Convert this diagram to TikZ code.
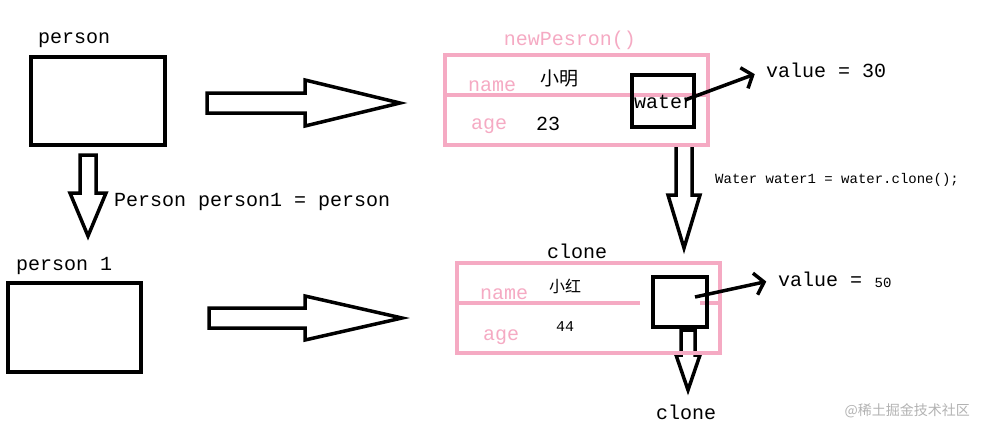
\documentclass[tikz,border=0pt]{standalone}
\usepackage{fontspec}
\usetikzlibrary{arrows.meta}
\setmonofont{Liberation Mono}
\newfontfamily\cjk{Noto Sans CJK SC}
\definecolor{pinkline}{RGB}{245,170,195}
\begin{document}
\begin{tikzpicture}[x=1pt,y=-1pt,
  lbl/.style={font=\ttfamily\fontsize{20}{20}\selectfont,inner sep=0pt},
  pinklbl/.style={lbl,text=pinkline},
  box/.style={draw=black,line width=3.5pt},
  pinkbox/.style={draw=pinkline,line width=3.5pt},
  blockarrow/.style={draw=black,line width=3.5pt,line join=miter},
  pointer/.style={line width=3.5pt,shorten >=12pt,-{Straight Barb[length=9pt,width=22pt]}}]
\useasboundingbox (0,0) rectangle (984,437);

% left side
\node[lbl,anchor=west] (person) at (38,40) {person};
\draw[box] (31,57) rectangle (165,145);
\node[lbl,anchor=west] (person1) at (16,266) {person 1};
\draw[box] (8,283) rectangle (141,372);
\node[lbl,anchor=west] (assign) at (114,202) {Person person1 = person};

% hollow arrows
\draw[blockarrow] (207,93) -- (305,93) -- (305,80) -- (400,103) -- (305,126) -- (305,113) -- (207,113) -- cycle;
\draw[blockarrow] (209,308) -- (305,308) -- (305,296) -- (402,318) -- (305,340) -- (305,328) -- (209,328) -- cycle;
\draw[blockarrow] (80,155) -- (96,155) -- (96,193) -- (106,193) -- (88,236) -- (70,193) -- (80,193) -- cycle;
\draw[blockarrow] (676,145) -- (692,145) -- (692,195) -- (700,195) -- (684,248) -- (668,195) -- (676,195) -- cycle;
\draw[blockarrow] (681,330) -- (695,330) -- (695,355) -- (700,355) -- (688,390) -- (676,355) -- (681,355) -- cycle;

% original object
\node[pinklbl] (newP) at (570,40) {newPesron()};
\draw[pinkbox] (445,55) rectangle (708,145);
\draw[pinkbox] (445,95) -- (708,95);
\node[pinklbl] (name1) at (492,86) {name};
\node[pinklbl] (age1) at (489,126) {age};
\node[font=\cjk\fontsize{19}{19}\selectfont,inner sep=0pt] (xm) at (559,78) {小明};
\node[lbl] (age23) at (548,124) {23};
\draw[box] (632,75) rectangle (694,127);
\node[lbl] (water1) at (664,102) {water};
\node[lbl,anchor=west] (val1) at (766,70) {value = 30};
\draw[pointer] (685,100) -- (val1.west);
\node[font=\ttfamily\fontsize{14}{14}\selectfont,inner sep=0pt,anchor=west] (code) at (715,180) {Water water1 = water.clone();};

% cloned object
\node[lbl] (clone1) at (577,251) {clone};
\draw[pinkbox] (457,263) rectangle (720,353);
\draw[pinkbox] (457,303) -- (640,303);
\draw[pinkbox] (700,303) -- (720,303);
\node[pinklbl] (name2) at (504,294) {name};
\node[pinklbl] (age2) at (501,337) {age};
\node[font=\cjk\fontsize{16}{16}\selectfont,inner sep=0pt] (xh) at (565,286) {小红};
\node[font=\ttfamily\fontsize{15}{15}\selectfont,inner sep=0pt] (age44) at (565,327) {44};
\draw[box] (653,277) rectangle (707,327);
\node[lbl,anchor=west] (val2) at (778,279) {value = };
\node[font=\ttfamily\fontsize{14}{14}\selectfont,inner sep=0pt] (v50) at (883,283) {50};
\draw[pointer] (695,297) -- (val2.west);
\node[lbl] (clone2) at (686,412) {clone};
\node[font=\cjk\fontsize{14}{14}\selectfont,text=gray!60,inner sep=0pt,anchor=east] (wm) at (970,411) {@稀土掘金技术社区};
\end{tikzpicture}
\end{document}
